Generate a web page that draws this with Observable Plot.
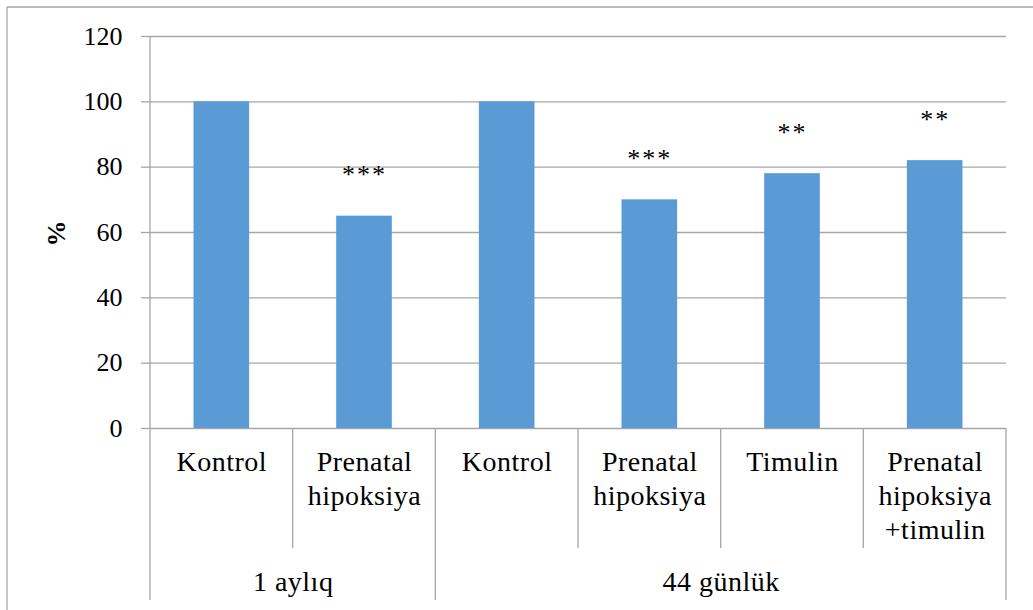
<!DOCTYPE html>
<html>
<head>
<meta charset="utf-8">
<script src="https://cdn.jsdelivr.net/npm/d3@7"></script>
<script src="https://cdn.jsdelivr.net/npm/@observablehq/plot@0.6"></script>
<style>
  html, body { margin: 0; padding: 0; background: #fff; }
  svg { display: block; }
  svg, svg text { font-family: "Liberation Serif", "Times New Roman", "DejaVu Serif", serif !important; }
</style>
</head>
<body>
<div id="chart"></div>
<script>
// ---- data ----
const categories = ["Kontrol", "Prenatal\nhipoksiya", "Kontrol", "Prenatal\nhipoksiya", "Timulin", "Prenatal\nhipoksiya\n+timulin"];
const values = [100, 65, 100, 70, 78, 82];
const significance = ["", "***", "", "***", "**", "**"];
const groups = ["1 aylıq", "44 günlük"];
const groupSizes = [2, 4];
const yTicks = [0, 20, 40, 60, 80, 100, 120];

const data = categories.map((c, i) => ({i, label: c, value: values[i], sig: significance[i]}));
let start = 0;
const groupData = groups.map((g, k) => {
  const d = {label: g, start, end: start + groupSizes[k]};
  start += groupSizes[k];
  return d;
});

const font = "Liberation Serif";
const barFrac = 0.39;
const gridColor = "#a6a6a6";

const chart = Plot.plot({
  width: 1033,
  height: 610,
  marginLeft: 150,
  marginRight: 27,
  marginTop: 36,
  marginBottom: 182,
  style: {fontSize: "26px", color: "#000", background: "#fff"},
  x: {domain: [0, categories.length], axis: null},
  y: {domain: [0, 120], ticks: yTicks},
  marks: [
    Plot.gridY(yTicks, {stroke: gridColor, strokeOpacity: 1, strokeWidth: 1.3}),
    Plot.axisY(yTicks, {tickSize: 9, tickPadding: 19, stroke: gridColor, strokeWidth: 1.3, strokeOpacity: 1, fontSize: 26, fontFamily: font, fill: "#000", label: null}),
    Plot.rectY(data, {
      x1: d => d.i + 0.5 - barFrac / 2,
      x2: d => d.i + 0.5 + barFrac / 2,
      y1: 0,
      y2: "value",
      fill: "#5b9bd5"
    }),
    Plot.text(data.filter(d => d.sig), {
      x: d => d.i + 0.5, y: "value", text: "sig",
      dy: -41, fontSize: 26, fontFamily: font, fill: "#000", lineAnchor: "middle"
    }),
    Plot.text(data, {
      x: d => d.i + 0.5, y: () => 0, text: "label",
      lineAnchor: "top", dy: 18, lineHeight: 1.22, fontSize: 28, fontFamily: font, fill: "#000"
    }),
    Plot.text(groupData, {
      x: d => (d.start + d.end) / 2, y: () => 0, text: "label",
      lineAnchor: "middle", dy: 154, fontSize: 28, fontFamily: font, fill: "#000"
    }),
    Plot.text(["%"], {
      frameAnchor: "left", text: d => d, rotate: -90, dx: -94, dy: 14,
      fontSize: 26, fontFamily: font, fontWeight: "bold", fill: "#000", lineAnchor: "middle"
    })
  ]
});

document.getElementById("chart").appendChild(chart);

// ---- decorations drawn with the library's scales ----
const svg = d3.select(chart);
const xs = chart.scale("x");
const ys = chart.scale("y");
const y0 = ys.apply(0);
const yTop = ys.apply(120);
const catBottom = y0 + 120;
const groupBottom = y0 + 172;

// letter spacing on category & group labels
svg.selectAll("g[aria-label='text'] text").filter(function () {
  const t = this.textContent;
  return t !== "%" && !t.startsWith("*");
}).attr("letter-spacing", "0.5px");
svg.selectAll("g[aria-label='text'] text").filter(function () {
  return this.textContent.startsWith("*");
}).attr("letter-spacing", "2px");

const lines = svg.append("g").attr("stroke", gridColor).attr("stroke-width", 1.3);
const boundaries = new Set(groupData.flatMap(g => [g.start, g.end]));
for (let b = 0; b <= categories.length; b++) {
  const px = xs.apply(b);
  const isGroup = boundaries.has(b);
  lines.append("line")
    .attr("x1", px).attr("x2", px)
    .attr("y1", b === 0 ? yTop : y0)
    .attr("y2", isGroup ? groupBottom : catBottom);
}
// outer frame (top & left)
const frame = svg.append("g").attr("stroke", "#a6a6a6").attr("stroke-width", 1.3);
frame.append("line").attr("x1", 7).attr("x2", 1033).attr("y1", 7).attr("y2", 7);
frame.append("line").attr("x1", 7).attr("x2", 7).attr("y1", 7).attr("y2", 610);
</script>
</body>
</html>
